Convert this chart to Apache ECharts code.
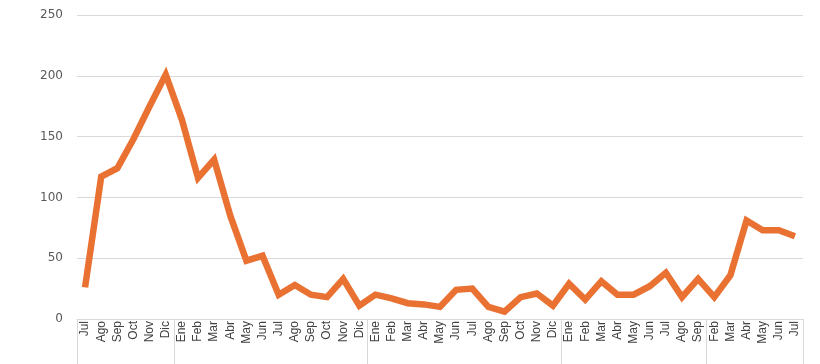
<!DOCTYPE html>
<html><head><meta charset="utf-8">
<script src="https://cdn.jsdelivr.net/npm/echarts@6/dist/echarts.min.js"></script>
<style>html,body{margin:0;padding:0;background:#fff}#c{width:820px;height:364px}</style>
</head><body><div id="c"></div>
<script>
const months = ["Jul","Ago","Sep","Oct","Nov","Dic",
  "Ene","Feb","Mar","Abr","May","Jun","Jul","Ago","Sep","Oct","Nov","Dic",
  "Ene","Feb","Mar","Abr","May","Jun","Jul","Ago","Sep","Oct","Nov","Dic",
  "Ene","Feb","Mar","Abr","May","Jun","Jul","Ago","Sep",
  "Feb","Mar","Abr","May","Jun","Jul"];
const values = [26,117,124,148,175,201,
  164,116,131,85,48,52,20,28,20,18,33,11,
  20,17,13,12,10,24,25,10,6,18,21,11,
  29,16,31,20,20,27,38,18,33,
  18,36,81,73,73,68];
const groupStarts = [0,6,18,30,39];
const yMin = 0, yMax = 250, yStep = 50;

const chart = echarts.init(document.getElementById('c'));
chart.setOption({
  animation: false,
  backgroundColor: '#fff',
  grid: {left: 77, right: 17, top: 15, bottom: 45},
  xAxis: [{
    type: 'category', data: months, boundaryGap: true,
    axisLine: {show: true, lineStyle: {color: '#d9d9d9', width: 1}},
    axisTick: {show: false},
    axisLabel: {interval: 0, rotate: 90, fontSize: 12, color: '#404040', margin: 2, fontFamily: 'Liberation Sans'}
  }, {
    type: 'category', data: months, boundaryGap: true, position: 'bottom',
    axisLine: {show: false},
    axisLabel: {show: false},
    axisTick: {show: true, length: 46, interval: function (i) { return groupStarts.indexOf(i) >= 0; },
      lineStyle: {color: '#d9d9d9', width: 1}}
  }],
  yAxis: {
    type: 'value', min: yMin, max: yMax, interval: yStep,
    axisLine: {show: false}, axisTick: {show: false},
    splitLine: {lineStyle: {color: '#d9d9d9', width: 1}},
    axisLabel: {fontSize: 12, color: '#595959', margin: 14, fontFamily: 'DejaVu Sans'}
  },
  series: [{
    type: 'line', data: values, xAxisIndex: 0, symbol: 'none',
    lineStyle: {color: '#E97132', width: 6.5, join: 'miter'}, itemStyle: {color: '#E97132'}
  }]
});
</script></body></html>
